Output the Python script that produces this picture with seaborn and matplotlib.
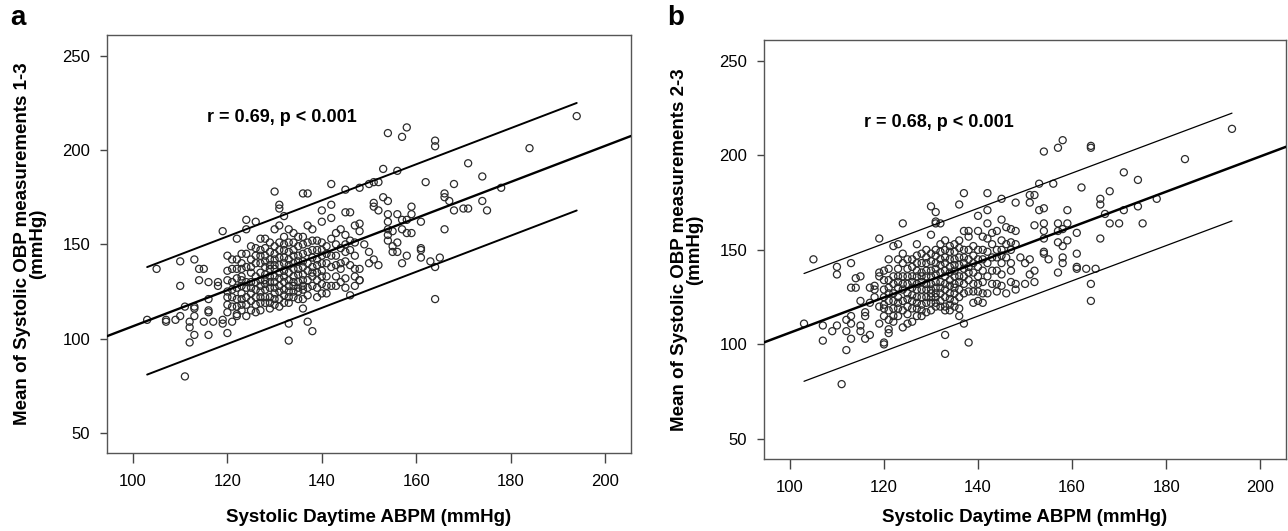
import pandas as pd
import seaborn as sns
import matplotlib.pyplot as plt

# Daytime ABPM values (x) and the OBP readings seen at each of them (y), panel a
abpm_a = [103, 105, 107, 109, 110, 111, 112, 113, 114, 115, 116, 117, 118, 119, 120,
          121, 122, 123, 124, 125, 126, 127, 128, 129, 130, 131, 132, 133, 134, 135,
          136, 137, 138, 139, 140, 141, 142, 143, 144, 145, 146, 147, 148, 149, 150,
          151, 152, 153, 154, 155, 156, 157, 158, 159, 161, 162, 163, 164, 165, 166,
          167, 168, 170, 171, 174, 175, 178, 184, 194]
obp_a = [[110], [137], [110, 109], [110], [141, 128, 112], [80, 117], [98, 106, 109],
         [142, 102, 112, 116, 117], [137, 131], [137, 109], [102, 115, 114, 121, 130],
         [109], [130, 128], [157, 110, 108],
         [103, 144, 125, 122, 118, 136, 131, 114],
         [142, 130, 126, 122, 109, 137, 117],
         [153, 137, 132, 121, 117, 113, 112, 142, 127],
         [145, 140, 133, 128, 124, 121, 115, 137, 131, 118],
         [163, 158, 112, 138, 130, 122, 145, 127, 118],
         [149, 142, 135, 130, 124, 115, 138, 127, 120],
         [162, 148, 140, 133, 126, 122, 114, 144, 130, 118],
         [153, 147, 140, 135, 128, 122, 115, 144, 131, 125, 119],
         [153, 144, 138, 131, 126, 119, 148, 141, 134, 129, 122],
         [151, 142, 137, 130, 122, 116, 146, 139, 133, 127, 119],
         [178, 158, 149, 142, 137, 130, 124, 121, 145, 139, 133, 127, 118],
         [171, 169, 160, 151, 143, 135, 128, 121, 147, 139, 132, 125, 117],
         [165, 154, 147, 140, 133, 126, 119, 150, 143, 136, 130, 123],
         [99, 108, 158, 151, 142, 135, 128, 122, 119, 146, 139, 131, 125],
         [156, 147, 140, 133, 128, 122, 151, 144, 137, 130, 125],
         [154, 144, 137, 130, 125, 149, 141, 134, 127, 121],
         [177, 154, 145, 138, 131, 126, 116, 150, 141, 134, 128, 121],
         [177, 160, 151, 140, 123, 109, 146, 136, 131, 127],
         [104, 158, 147, 138, 133, 152, 143, 135, 128],
         [152, 142, 135, 122, 147, 139, 131, 127],
         [168, 162, 151, 147, 140, 133, 124, 144, 136, 129],
         [140, 133, 124, 149, 145, 128],
         [182, 171, 164, 153, 144, 138, 128],
         [156, 144, 133, 128, 150, 139],
         [158, 137, 140, 148, 130],
         [179, 167, 150, 141, 132, 155, 146, 127],
         [167, 123, 152, 147, 139],
         [160, 151, 144, 137, 133, 128],
         [180, 161, 157, 137, 131, 131], [150], [182, 146, 140], [183, 172, 170, 142],
         [183, 168, 139], [190, 175], [209, 173, 166, 162, 158, 155, 152],
         [157, 149, 146], [189, 166, 151, 146], [207, 163, 158, 140],
         [212, 163, 156, 144], [170, 166, 156], [162, 148, 147, 143], [183], [141],
         [205, 202, 138, 121], [143], [177, 175, 158], [173], [182, 168], [169],
         [193, 169], [186, 173], [168], [180], [201], [218]]

# Panel b
abpm_b = [103, 105, 107, 109, 110, 111, 112, 113, 114, 115, 116, 117, 118, 119, 120,
          121, 122, 123, 124, 125, 126, 127, 128, 129, 130, 131, 132, 133, 134, 135,
          136, 137, 138, 139, 140, 141, 142, 143, 144, 145, 146, 147, 148, 149, 150,
          151, 152, 153, 154, 155, 156, 157, 158, 159, 161, 162, 163, 164, 165, 166,
          167, 168, 170, 171, 174, 175, 178, 184, 194]
obp_b = [[111], [145], [102, 110], [107], [141, 137, 110], [79], [97, 107, 113],
         [143, 130, 115, 111, 103], [135, 130], [136, 123, 110, 107], [117, 115, 103],
         [130, 122, 105], [131, 129, 125], [156, 138, 136, 120, 111],
         [139, 129, 125, 115, 101, 100, 134, 121, 119],
         [145, 134, 130, 123, 118, 113, 108, 106, 140, 127],
         [152, 132, 127, 123, 119, 112, 136, 115],
         [153, 145, 136, 130, 125, 122, 115, 140, 133, 119],
         [164, 143, 136, 129, 123, 109, 148, 132, 118],
         [145, 140, 132, 127, 120, 111, 136, 124, 116],
         [145, 136, 130, 123, 112, 141, 133, 126, 119],
         [153, 143, 136, 129, 122, 115, 147, 139, 132, 125, 119],
         [148, 138, 133, 125, 115, 143, 136, 129, 121, 118],
         [150, 143, 136, 129, 122, 117, 146, 139, 132, 125],
         [173, 158, 148, 139, 132, 127, 122, 144, 136, 129, 125, 118],
         [170, 165, 164, 150, 143, 137, 130, 125, 120, 147, 140, 133, 127, 122],
         [164, 153, 145, 142, 133, 127, 120, 149, 138, 130, 123],
         [155, 150, 143, 136, 129, 120, 105, 95, 146, 139, 132, 125, 118],
         [152, 145, 138, 131, 127, 118, 149, 141, 134, 124, 121],
         [153, 145, 139, 132, 127, 120, 149, 142, 136, 130, 123],
         [174, 155, 146, 136, 129, 115, 151, 142, 133, 125, 119],
         [180, 160, 150, 143, 136, 111, 146, 140, 132, 127],
         [160, 157, 145, 138, 101, 150, 141, 134, 128],
         [152, 143, 132, 122, 147, 138, 128],
         [168, 160, 150, 141, 132, 123, 145, 136, 128],
         [157, 145, 127, 122, 150, 139, 133],
         [180, 171, 164, 156, 149, 143, 136, 127],
         [159, 146, 132, 153, 139],
         [160, 150, 139, 132, 146, 128],
         [177, 166, 150, 143, 137, 155, 147, 131],
         [162, 153, 146, 127],
         [161, 150, 143, 139, 154, 133],
         [175, 160, 153, 132, 129], [146], [143, 132],
         [179, 175, 145, 137], [179, 163, 139, 133], [185, 171],
         [202, 172, 164, 160, 156, 149, 148], [145], [185], [204, 164, 160, 154, 138],
         [208, 161, 152, 146, 143], [171, 164, 155], [159, 148, 141, 140], [183], [140],
         [205, 204, 132, 123], [140], [177, 174, 156], [169], [181, 164], [164],
         [191, 171], [187, 173], [164], [177], [198], [214]]

# regression line (intercept, slope) and half width of the prediction band
fit_a = (11.0, 0.956)
fit_b = (13.0, 0.932)
band_a = 28.5
band_b = 28.5

stats_a = "r = 0.69, p < 0.001"
stats_b = "r = 0.68, p < 0.001"


def to_frame(xs, ys):
    rows = [(x, y) for x, col in zip(xs, ys) for y in col]
    return pd.DataFrame(rows, columns=["abpm", "obp"])


sns.set_style("white")
plt.rcParams["font.family"] = ["Liberation Sans", "DejaVu Sans"]
plt.rcParams["text.color"] = "black"
plt.rcParams["axes.labelcolor"] = "black"
plt.rcParams["xtick.color"] = "black"
plt.rcParams["ytick.color"] = "black"

fig = plt.figure(figsize=(12.88, 5.31), dpi=100)
ax_a = fig.add_axes([0.0831, 0.1469, 0.4068, 0.7872])
ax_b = fig.add_axes([0.5932, 0.1356, 0.4053, 0.7891])

panels = [
    (ax_a, to_frame(abpm_a, obp_a), fit_a, band_a, stats_a, "1-3", 1.7, 1.4, "a"),
    (ax_b, to_frame(abpm_b, obp_b), fit_b, band_b, stats_b, "2-3", 1.8, 0.9, "b"),
]

for ax, df, fit, band, stats, meas, lw_fit, lw_band, letter in panels:
    sns.scatterplot(data=df, x="abpm", y="obp", ax=ax, marker="o", s=26,
                    color="#2b2b2b", facecolor="none", edgecolor="#2b2b2b",
                    linewidth=0.9, zorder=3)

    b0, b1 = fit
    ax.axline((0, b0), slope=b1, color="black", lw=lw_fit, zorder=4)
    x0, x1 = df["abpm"].min(), df["abpm"].max()
    for sign in (1, -1):
        ax.plot([x0, x1], [b0 + b1 * x0 + sign * band, b0 + b1 * x1 + sign * band],
                color="black", lw=lw_band, zorder=4)

    ax.set_xlim(94.5, 205.5)
    ax.set_ylim(39.4, 261)
    ax.set_xticks([100, 120, 140, 160, 180, 200])
    ax.set_yticks([50, 100, 150, 200, 250])
    ax.tick_params(axis="x", length=7, width=1, color="#444444", pad=8, labelsize=12)
    ax.tick_params(axis="y", length=5, width=1, color="#444444", pad=7, labelsize=12)
    ax.tick_params(left=True, bottom=True)
    for sp in ax.spines.values():
        sp.set_color("#555555")
        sp.set_linewidth(1)

    ax.text(115.7, 217.5, stats, fontsize=13, fontweight="bold", ha="left", va="center")

    ax.set_xlabel("Systolic Daytime ABPM (mmHg)", fontsize=13.5, fontweight="bold")
    ax.set_ylabel(f"Mean of Systolic OBP measurements {meas}\n(mmHg)",
                  fontsize=13.5, fontweight="bold", linespacing=0.85)
    ax.yaxis.set_label_coords(-0.116, 0.5)

    pos = ax.get_position()
    fig.text(pos.x0 - 97 / 1288, 0.99, letter, fontsize=20, fontweight="bold",
             ha="left", va="top")

ax_a.xaxis.set_label_coords(0.5, -0.135)
ax_b.xaxis.set_label_coords(0.5, -0.12)

fig.savefig("out.png", dpi=100)
